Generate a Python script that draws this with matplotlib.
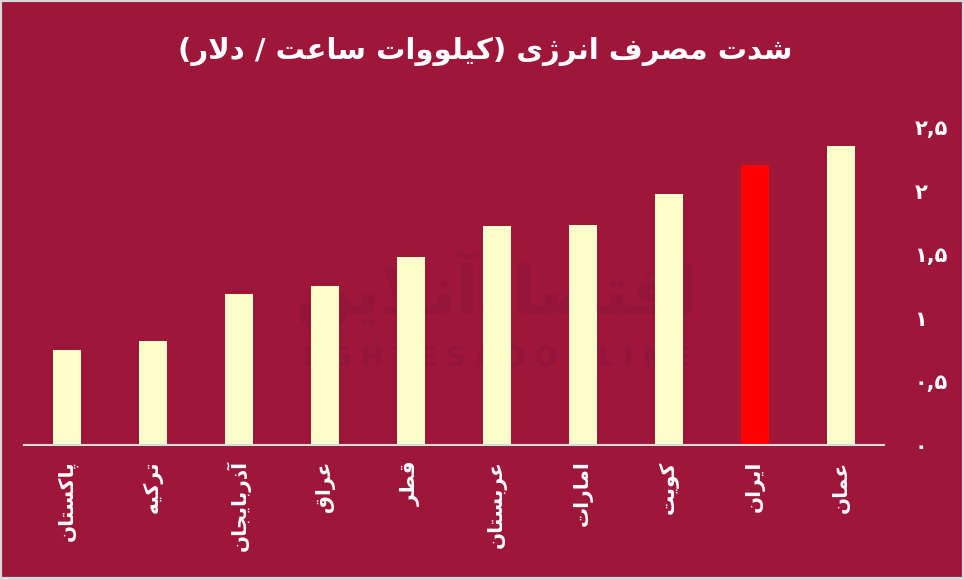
import matplotlib
matplotlib.use("Agg")
import matplotlib.pyplot as plt
from matplotlib.patches import Rectangle

# Data
countries = ["پاکستان", "ترکیه", "آذربایجان", "عراق", "قطر",
             "عربستان", "امارات", "کویت", "ایران", "عمان"]
values = [0.75, 0.82, 1.19, 1.25, 1.48, 1.72, 1.73, 1.97, 2.20, 2.35]
highlight = "ایران"
yticks = [0, 0.5, 1, 1.5, 2, 2.5]
ytick_labels = ["۰", "۰,۵", "۱", "۱,۵", "۲", "۲,۵"]
title = "شدت مصرف انرژی (کیلووات ساعت / دلار)"

bg = "#9E163A"
bar_color = "#FFFFCC"
hi_color = "#FF0000"
mark_color = "#95153A"

# matplotlib does no Arabic shaping, so pick presentation forms by hand
# (isolated, final, initial, medial) or (isolated, final) for right-joining letters
FORMS = {
    "ا": (0xFE8D, 0xFE8E), "آ": (0xFE81, 0xFE82),
    "د": (0xFEA9, 0xFEAA), "ذ": (0xFEAB, 0xFEAC),
    "ر": (0xFEAD, 0xFEAE), "ز": (0xFEAF, 0xFEB0),
    "ژ": (0xFB8A, 0xFB8B), "و": (0xFEED, 0xFEEE),
    "ب": (0xFE8F, 0xFE90, 0xFE91, 0xFE92),
    "پ": (0xFB56, 0xFB57, 0xFB58, 0xFB59),
    "ت": (0xFE95, 0xFE96, 0xFE97, 0xFE98),
    "ج": (0xFE9D, 0xFE9E, 0xFE9F, 0xFEA0),
    "س": (0xFEB1, 0xFEB2, 0xFEB3, 0xFEB4),
    "ش": (0xFEB5, 0xFEB6, 0xFEB7, 0xFEB8),
    "ص": (0xFEB9, 0xFEBA, 0xFEBB, 0xFEBC),
    "ط": (0xFEC1, 0xFEC2, 0xFEC3, 0xFEC4),
    "ع": (0xFEC9, 0xFECA, 0xFECB, 0xFECC),
    "ف": (0xFED1, 0xFED2, 0xFED3, 0xFED4),
    "ق": (0xFED5, 0xFED6, 0xFED7, 0xFED8),
    "ک": (0xFB8E, 0xFB8F, 0xFB90, 0xFB91),
    "ل": (0xFEDD, 0xFEDE, 0xFEDF, 0xFEE0),
    "م": (0xFEE1, 0xFEE2, 0xFEE3, 0xFEE4),
    "ن": (0xFEE5, 0xFEE6, 0xFEE7, 0xFEE8),
    "ه": (0xFEE9, 0xFEEA, 0xFEEB, 0xFEEC),
    "ی": (0xFBFC, 0xFBFD, 0xFBFE, 0xFBFF),
}
LAM_ALEF = {"ا": (0xFEFB, 0xFEFC), "آ": (0xFEF5, 0xFEF6)}


def shape(text):
    out = []
    i = 0
    while i < len(text):
        c = text[i]
        if c not in FORMS:
            out.append(c)
            i += 1
            continue
        prev = text[i - 1] if i > 0 else ""
        pj = prev in FORMS and len(FORMS[prev]) == 4
        if c == "ل" and i + 1 < len(text) and text[i + 1] in LAM_ALEF:
            iso, fin = LAM_ALEF[text[i + 1]]
            out.append(chr(fin if pj else iso))
            i += 2
            continue
        nxt = text[i + 1] if i + 1 < len(text) else ""
        nj = nxt in FORMS
        f = FORMS[c]
        if len(f) == 4:
            g = f[3] if (pj and nj) else f[1] if pj else f[2] if nj else f[0]
        else:
            g = f[1] if pj else f[0]
        out.append(chr(g))
        i += 1
    vis = "".join(reversed(out))
    return vis.translate(str.maketrans("()", ")("))


plt.rcParams["font.family"] = ["DejaVu Sans"]

fig = plt.figure(figsize=(9.64, 5.79), dpi=100)
fig.patch.set_facecolor(bg)
ax = fig.add_axes([24 / 964, 1 - 445 / 579, 860 / 964, 318 / 579])
ax.set_facecolor(bg)

# faint watermark behind the bars
ax.text(0.55, 0.49, shape("اقتصادآنلاین"), transform=ax.transAxes, ha="center",
        va="center", fontsize=48, fontweight="bold", color=mark_color, zorder=0)
ax.text(0.55, 0.27, "E G H T E S A D O N L I N E", transform=ax.transAxes,
        ha="center", va="center", fontsize=19, fontweight="bold",
        color=mark_color, zorder=0)

colors = [hi_color if c == highlight else bar_color for c in countries]
x = list(range(len(countries)))
ax.bar(x, values, width=0.314, color=colors, zorder=2)

ax.set_xlim(-0.5, len(countries) - 0.5)
ax.set_ylim(0, 2.5)

ax.set_xticks(x)
ax.set_xticklabels([shape(c) for c in countries], rotation=90, fontsize=14.5,
                   fontweight="bold", color="white")
ax.yaxis.tick_right()
ax.set_yticks(yticks)
ax.set_yticklabels(ytick_labels, fontsize=15, fontweight="bold", color="white")
ax.tick_params(axis="both", length=0)
ax.tick_params(axis="y", pad=22)
ax.tick_params(axis="x", pad=11)

for s in ["top", "left", "right"]:
    ax.spines[s].set_visible(False)
ax.spines["bottom"].set_color("#D9D9D9")
ax.spines["bottom"].set_linewidth(1.5)

fig.text(485 / 964, 1 - 51 / 579, shape(title), ha="center", va="center",
         fontsize=21, fontweight="bold", color="white")

fig.patches.append(Rectangle((0, 0), 1, 1, transform=fig.transFigure, fill=False,
                             edgecolor="#D9D9D9", linewidth=3))

fig.savefig("out.png", dpi=100, facecolor=bg)
